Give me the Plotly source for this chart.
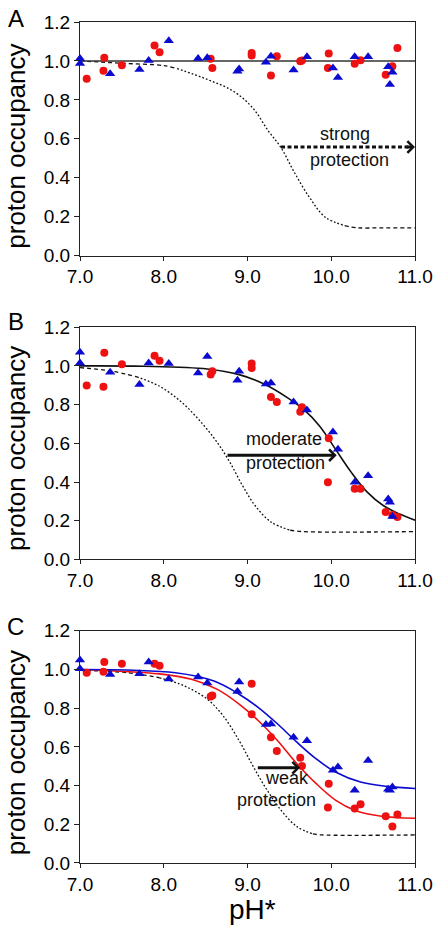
import plotly.graph_objects as go
from plotly.subplots import make_subplots

# ---------------- data ----------------
red_ph = [7.08, 7.29, 7.28, 7.50, 7.89, 7.95, 8.56, 8.58, 9.05, 9.05, 9.28,
          9.35, 9.63, 9.65, 9.97, 9.96, 10.28, 10.35, 10.65, 10.73, 10.79]
blue_ph = [7.0, 7.0, 7.36, 7.71, 7.82, 8.06, 8.41, 8.52, 8.88, 8.90, 9.22,
           9.28, 9.55, 9.71, 10.02, 10.08, 10.28, 10.44, 10.68, 10.70, 10.73]

A_red = [0.908, 1.017, 0.949, 0.978, 1.079, 1.045, 1.011, 0.964, 1.041, 1.028, 0.925,
         1.024, 0.999, 1.002, 1.038, 0.964, 0.985, 1.004, 0.929, 0.973, 1.067]
A_blue = [1.012, 0.987, 0.934, 0.956, 1.002, 1.104, 1.012, 1.016, 0.947, 0.959, 0.993,
          1.024, 0.954, 1.021, 0.964, 0.915, 1.021, 1.021, 0.970, 0.879, 0.942]
B_red = [0.899, 1.068, 0.892, 1.008, 1.053, 1.027, 0.955, 0.972, 1.012, 0.989, 0.839,
         0.813, 0.763, 0.787, 0.626, 0.399, 0.365, 0.365, 0.245, 0.230, 0.219]
B_blue = [1.070, 1.015, 0.967, 0.904, 1.015, 1.013, 0.964, 1.049, 0.926, 0.972, 0.907,
          0.912, 0.813, 0.772, 0.659, 0.570, 0.399, 0.433, 0.313, 0.296, 0.222]
C_red = [0.983, 1.039, 0.988, 1.029, 1.029, 1.019, 0.860, 0.865, 0.926, 0.769, 0.650,
         0.578, 0.544, 0.501, 0.410, 0.287, 0.282, 0.303, 0.241, 0.188, 0.251]
C_blue = [1.049, 1.003, 0.974, 0.978, 1.038, 0.951, 0.961, 0.930, 0.886, 0.935, 0.715,
          0.718, 0.650, 0.632, 0.479, 0.496, 0.376, 0.530, 0.381, 0.376, 0.393]

# reference (unprotected) curves
A_ref_x = [7.0, 7.5, 8.0, 8.16, 8.52, 8.83, 9.06, 9.25, 9.40, 9.55, 9.74, 9.93, 10.16, 10.31, 10.6, 11.0]
A_ref_y = [1.0, 0.988, 0.976, 0.961, 0.905, 0.845, 0.760, 0.640, 0.555, 0.435, 0.299, 0.197, 0.154, 0.143, 0.143, 0.143]
B_ref_x = [7.0, 7.38, 7.68, 7.95, 8.22, 8.45, 8.64, 8.79, 8.94, 9.09, 9.28, 9.51, 9.66, 11.0]
B_ref_y = [0.991, 0.973, 0.943, 0.895, 0.810, 0.707, 0.604, 0.502, 0.382, 0.279, 0.194, 0.151, 0.144, 0.144]
C_ref_x = [7.0, 7.57, 7.95, 8.25, 8.52, 8.71, 8.90, 9.05, 9.21, 9.40, 9.59, 9.78, 9.89, 11.0]
C_ref_y = [0.995, 0.983, 0.957, 0.914, 0.846, 0.760, 0.632, 0.513, 0.393, 0.273, 0.188, 0.150, 0.145, 0.145]

# fitted curves
A_fit_x = [7.0, 11.0]
A_fit_y = [1.0, 1.0]
B_fit_x = [7.0, 7.76, 8.52, 8.90, 9.21, 9.48, 9.67, 9.86, 10.05, 10.24, 10.43, 10.62, 10.81, 11.0]
B_fit_y = [1.0, 0.998, 0.984, 0.955, 0.904, 0.835, 0.775, 0.690, 0.570, 0.450, 0.348, 0.279, 0.236, 0.203]
C_rfit_x = [7.0, 7.95, 8.33, 8.64, 8.90, 9.13, 9.36, 9.59, 9.82, 10.05, 10.28, 10.58, 11.0]
C_rfit_y = [1.0, 0.977, 0.949, 0.897, 0.821, 0.735, 0.632, 0.513, 0.410, 0.325, 0.273, 0.243, 0.231]
C_bfit_x = [7.0, 8.14, 8.60, 8.90, 9.13, 9.36, 9.59, 9.82, 10.05, 10.35, 10.66, 11.0]
C_bfit_y = [1.0, 0.983, 0.940, 0.872, 0.803, 0.718, 0.624, 0.538, 0.470, 0.418, 0.396, 0.385]

x_ticks = [7, 8, 9, 10, 11]
y_ticks = [0.0, 0.2, 0.4, 0.6, 0.8, 1.0, 1.2]

panel_letters = ["A", "B", "C"]
arrow_labels = [("strong", "protection"), ("moderate", "protection"), ("weak", "protection")]
# arrow tail / tip (data coords)
arrow_tail = [(9.40, 0.558), (8.743, 0.539), (9.105, 0.492)]
arrow_tip = [(11.0, 0.558), (10.065, 0.539), (9.627, 0.492)]
# label positions (data coords): first line, second line
label_pos = [((10.165, 0.625), (10.22, 0.492)),
             ((9.43, 0.62), (9.45, 0.497)),
             ((9.475, 0.437), (9.35, 0.327))]

RED = "#ee1111"
BLUE = "#0b0bd0"
DARK = "#222222"
FONT = "Liberation Sans, Arial, sans-serif"

fig = make_subplots(rows=3, cols=1)


def runs(xs, ys, lo=0.16, hi=0.94):
    flags = [(ys[i] <= lo and ys[i + 1] <= lo) or (ys[i] >= hi and ys[i + 1] >= hi)
             for i in range(len(xs) - 1)]
    out = []
    start = 0
    for i in range(1, len(flags) + 1):
        if i == len(flags) or flags[i] != flags[start]:
            out.append((flags[start], xs[start:i + 1], ys[start:i + 1]))
            start = i
    return out


panels = [
    dict(red=A_red, blue=A_blue, ref=(A_ref_x, A_ref_y), fits=[(A_fit_x, A_fit_y, "#333333")]),
    dict(red=B_red, blue=B_blue, ref=(B_ref_x, B_ref_y), fits=[(B_fit_x, B_fit_y, "#111111")]),
    dict(red=C_red, blue=C_blue, ref=(C_ref_x, C_ref_y),
         fits=[(C_rfit_x, C_rfit_y, RED), (C_bfit_x, C_bfit_y, BLUE)]),
]

for i, p in enumerate(panels):
    row = i + 1
    for flat, xs, ys in runs(*p["ref"]):
        fig.add_trace(go.Scatter(x=xs, y=ys, mode="lines", line_shape="spline",
                                 line=dict(color="#111111", width=1.3,
                                           dash="4px,3px" if flat else "1.8px,2px"),
                                 showlegend=False, hoverinfo="skip"), row=row, col=1)
    for fx, fy, col in p["fits"]:
        fig.add_trace(go.Scatter(x=fx, y=fy, mode="lines", line_shape="spline",
                                 line=dict(color=col, width=1.6),
                                 showlegend=False, hoverinfo="skip"), row=row, col=1)
    fig.add_trace(go.Scatter(x=red_ph, y=p["red"], mode="markers", cliponaxis=False,
                             marker=dict(symbol="circle", size=8, color=RED, line=dict(width=0)),
                             showlegend=False), row=row, col=1)
    fig.add_trace(go.Scatter(x=blue_ph, y=p["blue"], mode="markers", cliponaxis=False,
                             marker=dict(symbol="triangle-up", size=9, color=BLUE, line=dict(width=0)),
                             showlegend=False), row=row, col=1)

# domains (top margin 17, bottom 65, plot height 846)
domains = [[0.7222, 1.0], [0.3609, 0.6371], [0.0, 0.2762]]
for i in range(3):
    sfx = "" if i == 0 else str(i + 1)
    fig.layout["yaxis" + sfx].update(
        domain=domains[i], range=[0, 1.2], tickvals=y_ticks, tickformat=".1f",
        ticks="outside", ticklen=5, tickwidth=1, tickcolor=DARK,
        showline=True, linecolor=DARK, linewidth=1, mirror=True,
        showgrid=False, zeroline=False, tickfont=dict(size=19, color="black", family=FONT))
    fig.layout["xaxis" + sfx].update(
        domain=[0, 1], range=[7, 11], tickvals=x_ticks, tickformat=".1f",
        ticks="outside", ticklen=4, tickwidth=1, tickcolor=DARK, ticklabeloverflow="allow",
        showline=True, linecolor=DARK, linewidth=1, mirror=True,
        showgrid=False, zeroline=False, tickfont=dict(size=19, color="black", family=FONT))

annotations = []
letter_y = [1.0041, 0.6436, 0.2813]
title_y = [0.8517, 0.4923, 0.1306]
for i in range(3):
    sfx = "" if i == 0 else str(i + 1)
    annotations.append(dict(text=panel_letters[i], xref="paper", yref="paper", x=-0.1924, y=letter_y[i],
                            xanchor="center", yanchor="middle", showarrow=False,
                            font=dict(size=24, color="black", family=FONT)))
    annotations.append(dict(text="proton occupancy", textangle=-90, xref="paper", yref="paper",
                            x=-0.1910, y=title_y[i], xanchor="center", yanchor="middle",
                            showarrow=False, font=dict(size=26, color="black", family=FONT)))
    (l1x, l1y), (l2x, l2y) = label_pos[i]
    annotations.append(dict(text=arrow_labels[i][0], xref="x" + sfx, yref="y" + sfx, x=l1x, y=l1y,
                            showarrow=False, borderpad=0,
                            font=dict(size=18, color="#111", family=FONT)))
    annotations.append(dict(text=arrow_labels[i][1], xref="x" + sfx, yref="y" + sfx, x=l2x, y=l2y,
                            showarrow=False, borderpad=0,
                            font=dict(size=18, color="#111", family=FONT)))
    tx, ty = arrow_tip[i]
    sx, sy = arrow_tail[i]
    if i == 0:
        fig.add_shape(type="line", xref="x", yref="y", x0=sx, y0=sy, x1=tx - 0.08, y1=ty,
                      line=dict(color="#111", width=3, dash="4px,2.5px"))
        annotations.append(dict(text="", x=tx, y=ty, xref="x", yref="y", ax=-10, ay=0,
                                showarrow=True, arrowhead=4, arrowsize=0.75, arrowwidth=3,
                                arrowcolor="#111", standoff=0))
    else:
        annotations.append(dict(text="", x=tx, y=ty, xref="x" + sfx, yref="y" + sfx,
                                ax=sx, ay=sy, axref="x" + sfx, ayref="y" + sfx,
                                showarrow=True, arrowhead=4, arrowsize=0.75, arrowwidth=3,
                                arrowcolor="#111", standoff=0))

annotations.append(dict(text="pH*", xref="paper", yref="paper", x=0.516, y=-0.0556,
                        xanchor="center", yanchor="middle", showarrow=False,
                        font=dict(size=28, color="black", family=FONT)))

fig.update_layout(width=445, height=928, margin=dict(l=80, r=15, t=17, b=65),
                  plot_bgcolor="white", paper_bgcolor="white", showlegend=False,
                  annotations=annotations, font=dict(family=FONT))

fig.write_html("out.html", config={"displayModeBar": False},
               post_script="document.body.style.margin='0';document.body.style.overflow='hidden';")
